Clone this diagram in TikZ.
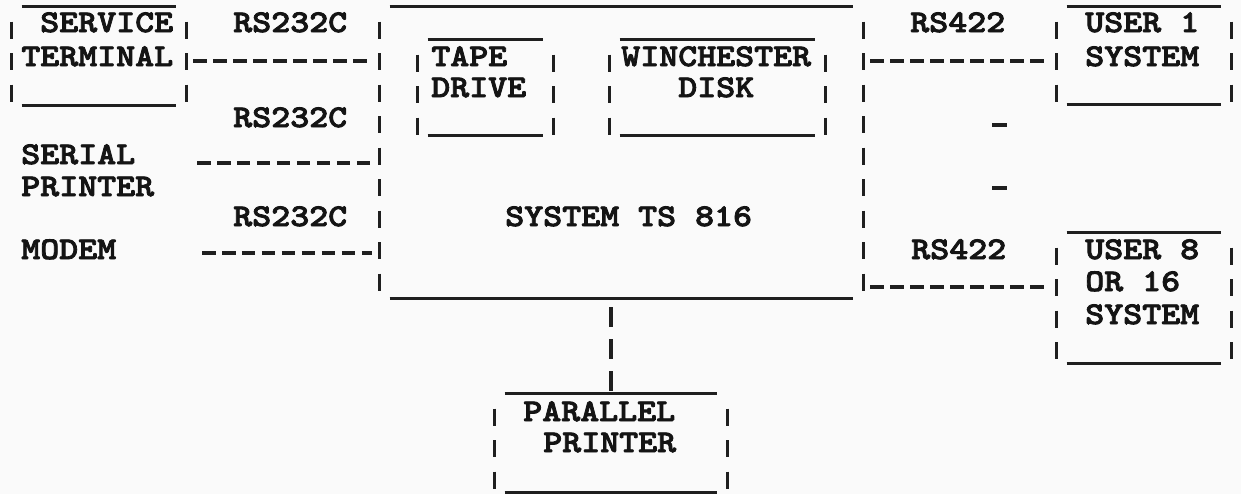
\documentclass[tikz,border=0pt]{standalone}
\usepackage{fontspec}
\newfontfamily\twfont{lmmonolt10-bold.otf}[FakeStretch=1.143, FakeBold=2.5]
\usetikzlibrary{fit}
\def\px{0.025cm}
\newcommand\tsframe[1]{%
  \draw[uline] ([xshift=10*\px]#1.north west) -- ([xshift=-10*\px]#1.north east);
  \draw[uline] ([xshift=10*\px]#1.south west) -- ([xshift=-10*\px]#1.south east);
  \draw[vbar] ([yshift=-15*\px]#1.north west) -- (#1.south west);
  \draw[vbar] ([yshift=-15*\px]#1.north east) -- (#1.south east);
}
\begin{document}
\begin{tikzpicture}[x=0.025cm,y=-0.025cm,
  txt/.style={font=\twfont\fontsize{22.5}{27}\selectfont, inner sep=0pt, anchor=mid west, text height=14pt, text depth=0pt, text=black!92},
  box/.style={inner sep=0pt, draw=none},
  uline/.style={line width=2.1pt, draw=black!88},
  vbar/.style={line width=2.4pt, draw=black!88, dash pattern=on 12.1pt off 10.3pt},
  vlink/.style={line width=2.4pt, draw=black!88, dash pattern=on 14.2pt off 8.5pt, shorten <=6.4pt},
  hyph/.style={line width=2.6pt, draw=black!88, dash pattern=on 9.6pt off 4.6pt, shorten <=5pt, shorten >=5.7pt},
  dot/.style={line width=2.6pt, draw=black!88},
]
\fill[black!2] (0,0) rectangle (1241,494);
\useasboundingbox (0,0) rectangle (1241,494);

% boxes
\node[box, fit={(12,7) (186,105)}] (svc) {};
\node[box, fit={(380,7) (863,298)}] (main) {};
\node[box, fit={(418,40) (553,135)}] (tape) {};
\node[box, fit={(610,40) (825,135)}] (winch) {};
\node[box, fit={(1057,7) (1231,104)}] (user1) {};
\node[box, fit={(1057,233) (1231,363)}] (user8) {};
\node[box, fit={(495,394) (727,492)}] (par) {};
\foreach \b in {svc,main,tape,winch,user1,user8,par} {\tsframe{\b}}

% texts
\node[txt] (tsvc1) at (40,29) {SERVICE};
\node[txt] (tsvc2) at (21,63) {TERMINAL};
\node[txt] (trs1) at (233,29) {RS232C};
\node[txt] (trs2) at (233,124) {RS232C};
\node[txt] (tser1) at (21,161) {SERIAL};
\node[txt] (tser2) at (21,193) {PRINTER};
\node[txt] (trs3) at (233,223) {RS232C};
\node[txt] (tmodem) at (21,256) {MODEM};
\node[txt] (ttape1) at (431,63) {TAPE};
\node[txt] (ttape2) at (431,94) {DRIVE};
\node[txt] (twin1) at (621,63) {WINCHESTER};
\node[txt] (twin2) at (678,94) {DISK};
\node[txt] (tsys) at (505,223) {SYSTEM TS 816};
\node[txt] (trs4) at (910,29) {RS422};
\node[txt] (trs5) at (911,256) {RS422};
\node[txt] (tu1a) at (1085,29) {USER 1};
\node[txt] (tu1b) at (1085,63) {SYSTEM};
\node[txt] (tu8a) at (1085,256) {USER 8};
\node[txt] (tu8b) at (1085,288) {OR 16};
\node[txt] (tu8c) at (1085,321) {SYSTEM};
\node[txt] (tpar1) at (523,418) {PARALLEL};
\node[txt] (tpar2) at (543,449) {PRINTER};

% connectors
\coordinate (r1) at (0,61);
\coordinate (r2) at (0,287);
\coordinate (serialend) at (190,163);
\coordinate (modemend) at (195,253);
\draw[hyph] (svc.east |- r1) -- (main.west |- r1);
\draw[hyph] (serialend) -- (main.west |- serialend);
\draw[hyph] (modemend) -- (main.west |- modemend);
\draw[hyph] (main.east |- r1) -- (user1.west |- r1);
\draw[hyph] (main.east |- r2) -- (user8.west |- r2);
\draw[vlink] (main.south -| par.north) -- (par.north);

% continuation marks
\coordinate (c1a) at (992,125); \coordinate (c1b) at (1007,125);
\coordinate (c2a) at (992,188); \coordinate (c2b) at (1007,188);
\draw[dot] (c1a) -- (c1b);
\draw[dot] (c2a) -- (c2b);
\end{tikzpicture}
\end{document}
